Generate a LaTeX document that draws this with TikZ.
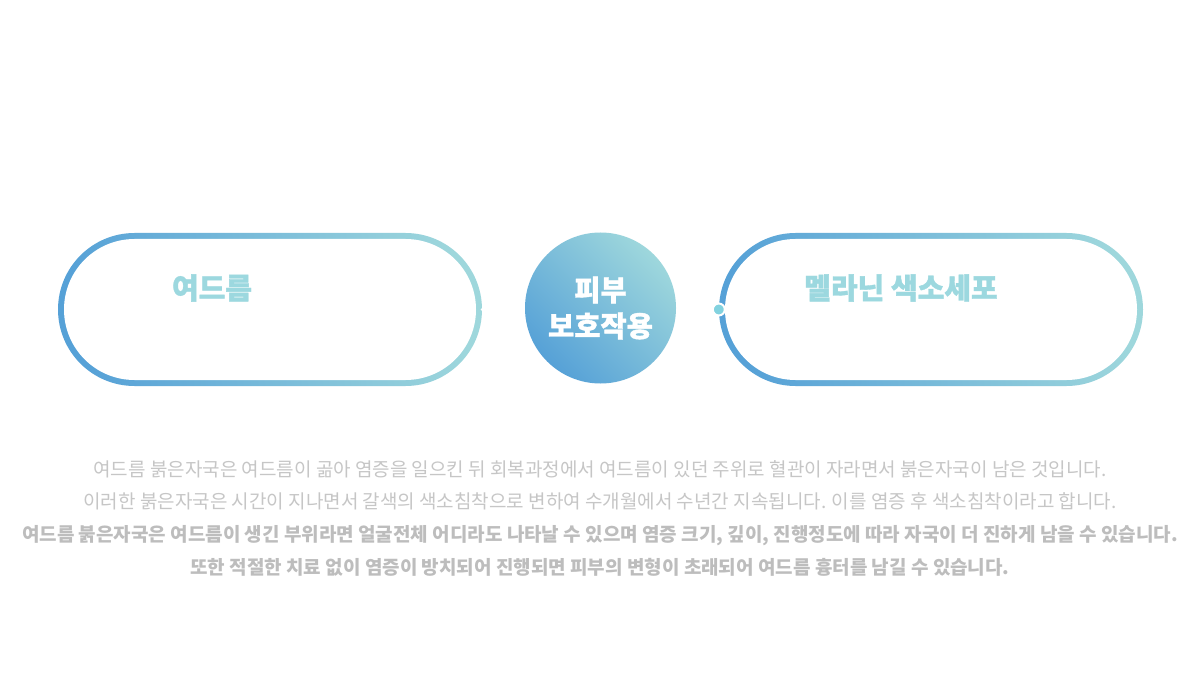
\documentclass[tikz,border=0pt]{standalone}
\usepackage{fontspec}
\setmainfont{Noto Sans CJK KR}
\newfontfamily\heavyfont[BoldFeatures={FakeBold=1.2}]{Noto Sans CJK KR}
\usepackage{xcolor}
\usetikzlibrary{shapes.misc,positioning}
\definecolor{skyblue}{HTML}{56A1D7}
\definecolor{skymint}{HTML}{9ED7DC}
\definecolor{titlemint}{HTML}{9CD8DF}
\definecolor{bodygray}{HTML}{C6C6C6}
\definecolor{bodydark}{HTML}{BDBDBD}
\definecolor{dotcyan}{HTML}{82D2DF}

\begin{document}
\begin{tikzpicture}[x=1pt, y=-1pt,
    pill/.style={rounded rectangle, inner sep=0pt, minimum width=424pt, minimum height=153pt, left color=skyblue, right color=skymint, shading angle=100},
    hole/.style={rounded rectangle, fill=white, inner sep=0pt, minimum width=412pt, minimum height=141pt},
    title/.style={font=\heavyfont\bfseries\fontsize{29}{29}\selectfont, text=titlemint, inner sep=0pt},
    core/.style={circle, inner sep=0pt, minimum size=151pt, top color=skymint, bottom color=skyblue, shading angle=-45, text=white, align=center, font=\heavyfont\bfseries\fontsize{28.5}{36}\selectfont},
    body/.style={font=\fontsize{19}{19}\selectfont, text=bodygray, inner sep=0pt, text height=14pt, text depth=4pt},
    boldbody/.style={body, font=\bfseries\fontsize{19}{19}\selectfont, text=bodydark},
    node distance=14.5pt
]
\useasboundingbox[fill=white] (0,0) rectangle (1200,687);

\node[pill] (acne) at (270,309.5) {};
\node[hole] (acneHole) at (acne.center) {};
\fill[white] (acne.east) circle (1.5pt);
\node[title] (acneTitle) at (212,288) {여드름};

\node[core] (skin) at (600.5,308) {피부\\보호작용};

\node[pill] (melano) at (931,309.5) {};
\node[hole] (melanoHole) at (melano.center) {};
\node[circle, fill=dotcyan, draw=white, line width=2pt, minimum size=12pt, inner sep=0pt] (melanoDot) at (melano.west) {};
\node[title] (melanoTitle) at (901,288) {멜라닌 색소세포};

\node[body] (line1) at (600,471) {여드름 붉은자국은 여드름이 곪아 염증을 일으킨 뒤 회복과정에서 여드름이 있던 주위로 혈관이 자라면서 붉은자국이 남은 것입니다.};
\node[body, below=of line1] (line2) {이러한 붉은자국은 시간이 지나면서 갈색의 색소침착으로 변하여 수개월에서 수년간 지속됩니다. 이를 염증 후 색소침착이라고 합니다.};
\node[boldbody, below=of line2] (line3) {여드름 붉은자국은 여드름이 생긴 부위라면 얼굴전체 어디라도 나타날 수 있으며 염증 크기, 깊이, 진행정도에 따라 자국이 더 진하게 남을 수 있습니다.};
\node[boldbody, below=of line3] (line4) {또한 적절한 치료 없이 염증이 방치되어 진행되면 피부의 변형이 초래되어 여드름 흉터를 남길 수 있습니다.};

\end{tikzpicture}
\end{document}
